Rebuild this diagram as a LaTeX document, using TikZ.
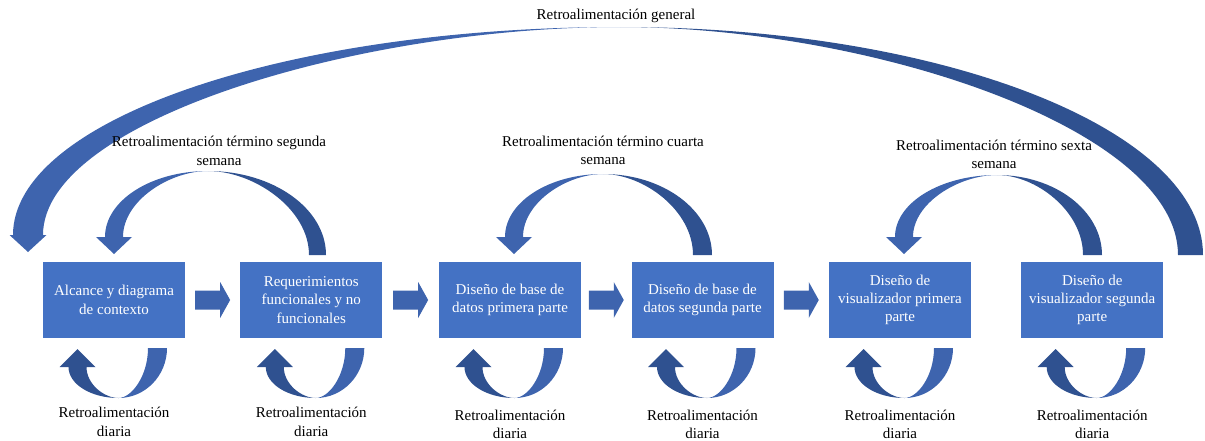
\documentclass[tikz,border=0pt]{standalone}
\usepackage{fontspec}
\setmainfont{Liberation Serif}
\usetikzlibrary{calc}

\definecolor{boxblue}{HTML}{4472C4}
\definecolor{arrowlight}{HTML}{3E64AE}
\definecolor{arrowdark}{HTML}{2F5190}

% Curved feedback arrow over the boxes: tail on the right, head on the left.
% #1,#2 top point; #3,#4 outer/inner x of the tail; #5 tail end y;
% #6,#7 outer/inner x of the head shaft; #8 head base y; #9 head overhang
\newcommand{\overarc}[9]{%
  \fill[arrowdark] (#1,#2)
    .. controls ({#1+0.5523*(#3-#1)},#2) and (#3,{#5-0.5523*(#5-#2)}) .. (#3,#5)
    -- (#4,#5)
    .. controls (#4,{#5-0.5523*(#5-#2)}) and ({#1+0.45*(#4-#1)},#2) .. (#1,#2) -- cycle;
  \fill[arrowlight] (#1,#2)
    .. controls ({#1-0.5523*(#1-#6)},#2) and (#6,{#8-0.5523*(#8-#2)}) .. (#6,#8)
    -- ({#6-#9},#8) -- ({(#6+#7)/2},{#8+17}) -- ({#7+#9},#8) -- (#7,#8)
    .. controls (#7,{#8-0.5523*(#8-#2)}) and ({#1-0.45*(#1-#7)},#2) .. (#1,#2) -- cycle;
}

% Daily loop under a box whose centre is at x = #1
\newcommand{\dailyloop}[1]{%
  \fill[arrowlight] ({#1+4.5},398)
    .. controls ({#1+4.5+0.5523*48.5},398) and ({#1+53},{348+0.5523*50}) .. ({#1+53},348)
    -- ({#1+34},348)
    .. controls ({#1+34},{348+0.5523*50}) and ({#1+4.5+0.45*29.5},398) .. ({#1+4.5},398) -- cycle;
  \fill[arrowdark] ({#1+4.5},398)
    .. controls ({#1+4.5-0.5523*50},398) and ({#1-45.5},{367+0.5523*31}) .. ({#1-45.5},367)
    -- ({#1-54.5},367) -- ({#1-36.5},349) -- ({#1-18.5},367) -- ({#1-27.5},367)
    .. controls ({#1-27.5},{367+0.5523*31}) and ({#1+4.5-0.45*32},398) .. ({#1+4.5},398) -- cycle;
}

% Block arrow centred in the gap between two boxes
\newcommand{\stepgo}[2]{%
  \coordinate (m#1#2) at ($(#1.east)!0.5!(#2.west)$);
  \fill[arrowlight] ($(m#1#2)+(-17.5,-9.5)$) -- ($(m#1#2)+(7.5,-9.5)$)
    -- ($(m#1#2)+(7.5,-18)$) -- ($(m#1#2)+(17.5,0)$) -- ($(m#1#2)+(7.5,18)$)
    -- ($(m#1#2)+(7.5,9.5)$) -- ($(m#1#2)+(-17.5,9.5)$) -- cycle;
}

\begin{document}
\begin{tikzpicture}[x=1pt,y=-1pt,
  stepbox/.style={rectangle, fill=boxblue, text=white, minimum width=142pt,
    minimum height=76pt, inner sep=0pt, align=center,
    font=\fontsize{15}{18.3}\selectfont},
  lbl/.style={align=center, inner sep=0pt, text=black,
    font=\fontsize{15}{18.3}\selectfont}]
\useasboundingbox (0,0) rectangle (1205,440);

% stages
\node[stepbox] (b1) at (114,300) {Alcance y diagrama\\de contexto};
\node[stepbox] (b2) at (311.3,300) {Requerimientos\\funcionales y no\\funcionales};
\node[stepbox] (b3) at (510,300) {Diseño de base de\\datos primera parte};
\node[stepbox] (b4) at (702.5,300) {Diseño de base de\\datos segunda parte};
\node[stepbox] (b5) at (900,300) {Diseño de\\visualizador primera\\parte};
\node[stepbox] (b6) at (1092.2,300) {Diseño de\\visualizador segunda\\parte};

% forward arrows
\stepgo{b1}{b2}
\stepgo{b2}{b3}
\stepgo{b3}{b4}
\stepgo{b4}{b5}

% daily feedback loops
\dailyloop{114}
\dailyloop{311.3}
\dailyloop{510}
\dailyloop{702.5}
\dailyloop{900}
\dailyloop{1092.2}

% weekly feedback arrows
\overarc{208}{171}{326}{309}{255}{105}{123}{237}{9}
\overarc{603}{174}{712}{693}{255}{505}{523}{237}{9}
\overarc{997}{175}{1102}{1083}{255}{895}{913}{237}{9}

% general feedback arrow
\overarc{620}{27}{1203}{1178}{255}{13}{43}{235}{3.5}

% labels
\node[lbl] (t0) at (616,16) {Retroalimentación general};
\node[lbl] (t1) at (219,151) {Retroalimentación término segunda\\semana};
\node[lbl] (t2) at (603,150.5) {Retroalimentación término cuarta\\semana};
\node[lbl] (t3) at (994,154.5) {Retroalimentación término sexta\\semana};

\node[lbl] (d1) at (114,422) {Retroalimentación\\diaria};
\node[lbl] (d2) at (311.3,422) {Retroalimentación\\diaria};
\node[lbl] (d3) at (510,424.5) {Retroalimentación\\diaria};
\node[lbl] (d4) at (702.5,424.5) {Retroalimentación\\diaria};
\node[lbl] (d5) at (900,424.5) {Retroalimentación\\diaria};
\node[lbl] (d6) at (1092.2,424.5) {Retroalimentación\\diaria};
\end{tikzpicture}
\end{document}
